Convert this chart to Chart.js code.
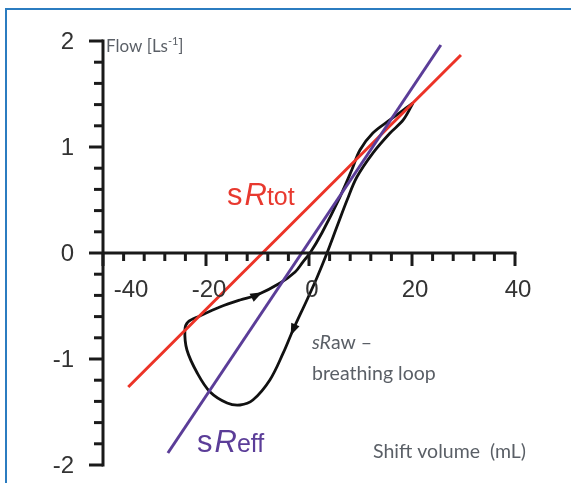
<!DOCTYPE html>
<html><head><meta charset="utf-8">
<script src="https://cdn.jsdelivr.net/npm/chart.js@4"></script>
<style>
html,body{margin:0;padding:0;background:#fff;overflow:hidden;}
#wrap{position:relative;width:571px;height:483px;overflow:hidden;}
#frame{position:absolute;left:5px;top:8px;width:700px;height:700px;border-top:2px solid #2b7cc0;border-left:2px solid #2b7cc0;pointer-events:none;}
canvas{display:block;}
</style></head><body>
<div id="wrap"><canvas id="c" width="571" height="483"></canvas><div id="frame"></div></div>
<script>
// ---- data ----
const xMajorTicks = [-40, -20, 0, 20, 40];
const xTickLabels = ['-40', '-20', '0', '20', '40'];
const xMinorStep = 4;
const yMajorTicks = [-2, -1, 0, 1, 2];
const yTickLabels = ['-2', '-1', '0', '1', '2'];
const yMinorStep = 0.2;

// regression lines (shift volume mL, flow L/s)
const sRtotVolume = [-35.1, 29.5];
const sRtotFlow = [-1.264, 1.868];
const sReffVolume = [-27.4, 25.6];
const sReffFlow = [-1.887, 1.962];

// breathing loop
const loopVolume = [20.2, 18.3, 15.7, 12.4, 9.3, 7.4, 5.4, 3.5, 1.6, -0.4, -3.1, -5.0, -7.6, -10.9, -13.4, -15.9, -19.2, -21.7, -23.7, -24.1, -23.5, -21.2, -17.3, -13.4, -10.1, -5.6, -2.7, -1.2, 0.2, 2.5, 6.0, 8.3, 9.9, 12.4, 15.7, 18.3, 20.2];
const loopFlow = [1.415, 1.255, 1.13, 0.943, 0.717, 0.5, 0.245, 0.0, -0.226, -0.443, -0.726, -0.943, -1.198, -1.387, -1.434, -1.415, -1.311, -1.132, -0.915, -0.726, -0.651, -0.594, -0.509, -0.443, -0.396, -0.283, -0.179, -0.085, 0, 0.189, 0.528, 0.783, 0.972, 1.132, 1.255, 1.349, 1.415];
const loopArrowIdx = [10, 24];

const pts = (xs, ys) => xs.map((x, i) => ({x, y: ys[i]}));

const axesPlugin = {
  id: 'axesPlugin',
  afterDatasetsDraw(chart) {
    const ctx = chart.ctx;
    const xs = chart.scales.x, ys = chart.scales.y;
    const ax = xs.getPixelForValue(xs.min);
    const ay = ys.getPixelForValue(0);
    const yTop = ys.getPixelForValue(ys.max), yBot = ys.getPixelForValue(ys.min);
    const xR = xs.getPixelForValue(xs.max);
    ctx.save();
    ctx.strokeStyle = '#1a1a1a';
    ctx.lineWidth = 3;
    ctx.lineCap = 'butt';
    // y axis
    ctx.beginPath(); ctx.moveTo(ax, yTop - 1.5); ctx.lineTo(ax, yBot + 1.5); ctx.stroke();
    // x axis
    ctx.beginPath(); ctx.moveTo(ax, ay); ctx.lineTo(xR + 1.5, ay); ctx.stroke();
    // y ticks
    for (let v = ys.min; v <= ys.max + 1e-9; v += yMinorStep) {
      const vv = Math.round(v * 10) / 10;
      const major = yMajorTicks.some(t => Math.abs(t - vv) < 1e-6);
      const py = ys.getPixelForValue(vv);
      const len = major ? 14 : 9;
      ctx.beginPath(); ctx.moveTo(ax, py); ctx.lineTo(ax - len, py); ctx.stroke();
    }
    // x ticks
    for (let v = xs.min; v <= xs.max + 1e-9; v += xMinorStep) {
      const major = xMajorTicks.includes(v);
      const px = xs.getPixelForValue(v);
      const len = major ? 13 : 8;
      ctx.beginPath(); ctx.moveTo(px, ay); ctx.lineTo(px, ay + len); ctx.stroke();
    }
    // tick labels
    ctx.fillStyle = '#333';
    ctx.font = "24px 'Liberation Sans', Arial, sans-serif";
    ctx.textBaseline = 'middle';
    ctx.textAlign = 'right';
    yMajorTicks.forEach((v, i) => {
      ctx.fillText(yTickLabels[i], ax - 29, ys.getPixelForValue(v) + 1);
    });
    ctx.textAlign = 'center';
    xMajorTicks.forEach((v, i) => {
      let px = xs.getPixelForValue(v) + 3;
      if (v === xs.min) px += 25;
      ctx.fillText(xTickLabels[i], px, ay + 37);
    });

    // arrows on loop
    ctx.fillStyle = '#111';
    loopArrowIdx.forEach(i => {
      const p0x = xs.getPixelForValue(loopVolume[i]), p0y = ys.getPixelForValue(loopFlow[i]);
      const p1x = xs.getPixelForValue(loopVolume[i + 1]), p1y = ys.getPixelForValue(loopFlow[i + 1]);
      const a = Math.atan2(p1y - p0y, p1x - p0x);
      ctx.save();
      ctx.translate(p0x, p0y); ctx.rotate(a);
      ctx.beginPath(); ctx.moveTo(6, 0); ctx.lineTo(-6, -4.5); ctx.lineTo(-6, 4.5); ctx.closePath(); ctx.fill();
      ctx.restore();
    });

    // annotations
    const gray = '#5a5f66';
    const geo = "Lato, 'Open Sans', sans-serif";
    ctx.textAlign = 'left';
    ctx.textBaseline = 'alphabetic';
    ctx.fillStyle = gray;
    let x = 106;
    ctx.font = "17px " + geo;
    ctx.fillText('Flow [Ls', x, 52); x += ctx.measureText('Flow [Ls').width;
    ctx.font = "11px " + geo;
    ctx.fillText('-1', x, 45); x += ctx.measureText('-1').width;
    ctx.font = "17px " + geo;
    ctx.fillText(']', x, 52);

    ctx.font = "italic 19.5px " + geo;
    x = 312;
    ctx.fillText('sR', x, 349); x += ctx.measureText('sR').width;
    ctx.font = "19.5px " + geo;
    ctx.fillText('aw \u2013', x, 349);
    ctx.fillText('breathing loop', 312, 380);
    ctx.fillText('Shift volume  (mL)', 373, 458);

    function sLabel(color, sub, x0, base) {
      ctx.fillStyle = color;
      let xx = x0;
      ctx.font = "31px 'Liberation Sans', Arial, sans-serif";
      ctx.fillText('s', xx, base); xx += ctx.measureText('s').width + 2;
      ctx.font = "italic 31px 'Liberation Sans', Arial, sans-serif";
      ctx.fillText('R', xx, base); xx += ctx.measureText('R').width;
      ctx.font = "25px 'Liberation Sans', Arial, sans-serif";
      ctx.fillText(sub, xx, base);
    }
    sLabel('#e8392f', 'tot', 227, 205);
    sLabel('#5b3d98', 'eff', 197, 452);
    ctx.restore();
  }
};

new Chart(document.getElementById('c'), {
  type: 'line',
  data: {
    datasets: [
      {label: 'sReff', data: pts(sReffVolume, sReffFlow), borderColor: '#5b3d98', borderWidth: 3, pointRadius: 0, order: 1},
      {label: 'sRtot', data: pts(sRtotVolume, sRtotFlow), borderColor: '#ec3327', borderWidth: 3, pointRadius: 0, order: 2},
      {label: 'sRaw loop', data: pts(loopVolume, loopFlow), borderColor: '#111', borderWidth: 2.8, pointRadius: 0, tension: 0.35, order: 3}
    ]
  },
  options: {
    responsive: false,
    animation: false,
    devicePixelRatio: 1,
    parsing: true,
    layout: {padding: {left: 103, right: 56, top: 41, bottom: 18}},
    scales: {
      x: {type: 'linear', min: -40, max: 40, display: false},
      y: {type: 'linear', min: -2, max: 2, display: false}
    },
    plugins: {legend: {display: false}, tooltip: {enabled: false}},
    elements: {line: {fill: false, borderCapStyle: 'butt'}}
  },
  plugins: [axesPlugin]
});
</script>
</body></html>
